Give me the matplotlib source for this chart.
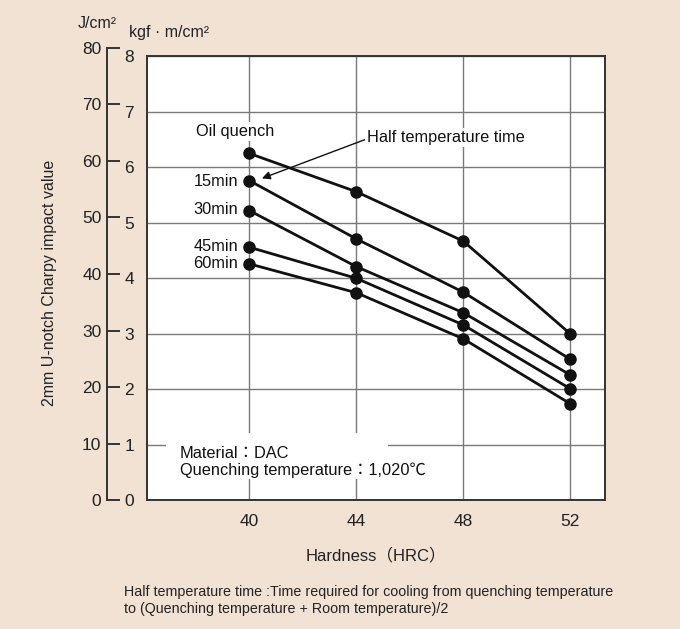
import matplotlib
matplotlib.use("Agg")
import matplotlib.pyplot as plt
from matplotlib.patches import Rectangle

# ---- data ----
hardness = [40, 44, 48, 52]
series_labels = ["Oil quench", "15min", "30min", "45min", "60min"]
oil_quench = [6.25, 5.56, 4.67, 3.00]
min15 = [5.76, 4.71, 3.75, 2.54]
min30 = [5.22, 4.21, 3.38, 2.26]
min45 = [4.56, 4.00, 3.16, 2.01]
min60 = [4.26, 3.74, 2.91, 1.74]
series = [oil_quench, min15, min30, min45, min60]
kgf_ticks = [0, 1, 2, 3, 4, 5, 6, 7, 8]
j_ticks = [0, 10, 20, 30, 40, 50, 60, 70, 80]
x_ticks = [40, 44, 48, 52]
J_PER_KGF = 9.80665

BG = "#f1e2d4"
FONT = ["Liberation Sans", "DejaVu Sans"]
CJK = ["Liberation Sans", "Noto Sans CJK JP"]
plt.rcParams["font.family"] = FONT

W, H = 680, 629
fig = plt.figure(figsize=(W / 100, H / 100), dpi=100)
fig.patch.set_facecolor(BG)

def fx(px):
    return px / W

def fy(py):
    return 1 - py / H

ax_l, ax_r, ax_t, ax_b = 146.7, 605, 56.3, 500.3
ax = fig.add_axes([fx(ax_l), fy(ax_b), fx(ax_r - ax_l), (ax_b - ax_t) / H])
ax.set_facecolor("white")
ax.set_xlim(36.16, 53.3)
ax.set_ylim(0, 8)
ax.set_xticks(x_ticks)
ax.set_yticks(kgf_ticks)
ax.grid(True, color="#7a7a7a", linewidth=1.0)
ax.set_axisbelow(True)
for s in ax.spines.values():
    s.set_color("#333333")
    s.set_linewidth(1.4)
ax.tick_params(axis="both", length=0, labelsize=12.5, colors="#222222")
ax.tick_params(axis="x", pad=10)
ax.tick_params(axis="y", pad=9)

for vals in series:
    ax.plot(hardness, vals, color="#111111", linewidth=2.0, marker="o",
            markersize=8, zorder=5, clip_on=False)

TS = 11.8
ax.text(39.47, 6.64, series_labels[0], ha="center", va="center", fontsize=TS,
        color="#111111", bbox=dict(facecolor="white", edgecolor="none", pad=1.5), zorder=4)
label_y = [5.74, 5.24, 4.58, 4.26]
for lab, yv in zip(series_labels[1:], label_y):
    ax.text(39.59, yv, lab, ha="right", va="center", fontsize=TS, color="#111111",
            bbox=dict(facecolor="white", edgecolor="none", pad=0.5), zorder=4)

ax.annotate("Half temperature time", xy=(40.47, 5.80), xytext=(44.4, 6.54),
            ha="left", va="center", fontsize=TS, color="#111111",
            bbox=dict(facecolor="white", edgecolor="none", pad=1.5),
            arrowprops=dict(arrowstyle="-|>", color="#111111", lw=1.0,
                            mutation_scale=12, shrinkA=0, shrinkB=0,
                            relpos=(0.0, 0.4)), zorder=6)

# white patch behind the material note
ax.add_patch(Rectangle((36.88, 0.38), 45.2 - 36.88, 1.21 - 0.38,
                       facecolor="white", edgecolor="none", zorder=3))
ax.text(37.39, 0.69, "Material：DAC\nQuenching temperature：1,020℃", ha="left",
        va="center", fontsize=TS, color="#111111", linespacing=1.1,
        family=CJK, zorder=4)

ax.set_xlabel("Hardness（HRC）", fontsize=12, color="#222222", labelpad=13,
              family=CJK)

# J/cm2 axis
j_top = 80 / J_PER_KGF * (ax_b - ax_t) / 8
axj = fig.add_axes([fx(107), fy(ax_b), fx(10), j_top / H])
axj.patch.set_alpha(0)
axj.set_ylim(0, 80)
axj.set_xlim(0, 1)
axj.set_yticks(j_ticks)
axj.set_xticks([])
for k in ["top", "right", "bottom"]:
    axj.spines[k].set_visible(False)
axj.spines["left"].set_color("#333333")
axj.spines["left"].set_linewidth(1.4)
axj.tick_params(axis="y", direction="in", length=9, width=1.4, color="#333333",
                labelsize=12.5, labelcolor="#222222", pad=4)

fig.text(fx(97), fy(24), "J/cm²", ha="center", va="center", fontsize=11.5, color="#222222")
fig.text(fx(129), fy(33), "kgf · m/cm²", ha="left", va="center", fontsize=11.5,
         color="#222222")

fig.text(fx(50), fy(283), "2mm U-notch Charpy impact value", rotation=90,
         ha="center", va="center", fontsize=11.5, color="#222222")

fig.text(fx(123.6), fy(592), "Half temperature time :Time required for cooling from quenching temperature",
         ha="left", va="center", fontsize=10.3, color="#222222")
fig.text(fx(123.6), fy(609), "to (Quenching temperature + Room temperature)/2",
         ha="left", va="center", fontsize=10.3, color="#222222")

fig.savefig("out.png", dpi=100, facecolor=BG)
